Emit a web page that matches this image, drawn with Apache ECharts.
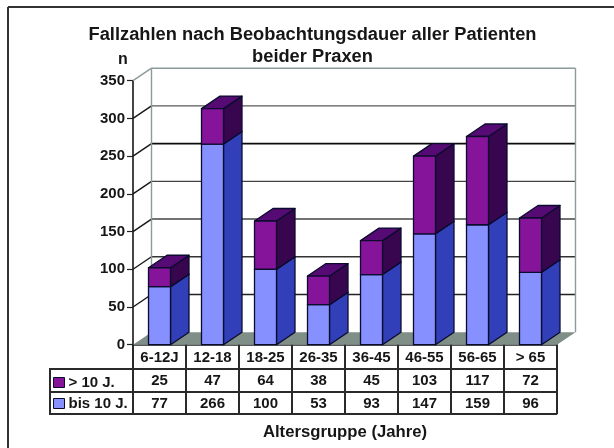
<!DOCTYPE html>
<html>
<head>
<meta charset="utf-8">
<title>Fallzahlen</title>
<script src="https://cdn.jsdelivr.net/npm/echarts@6/dist/echarts.min.js"></script>
<style>
html, body { margin: 0; padding: 0; background: #fff; }
#chart { width: 614px; height: 448px; }
</style>
</head>
<body>
<div id="chart"></div>
<script>
const categories = ['6-12J', '12-18', '18-25', '26-35', '36-45', '46-55', '56-65', '> 65']
const over10 = [25, 47, 64, 38, 45, 103, 117, 72]
const upTo10 = [77, 266, 100, 53, 93, 147, 159, 96]
const yTicks = [0, 50, 100, 150, 200, 250, 300, 350]

const FONT = '"Liberation Sans", Arial, sans-serif'
const INK = '#161616'
const EDGE = '#0b0b2e'
const TABLE_LINE = '#2a2a2a'
// 3D offset of the back wall
const DX = 18.5
const DY = 12.5
const gridColor = { 50: '#222', 100: '#333', 150: '#444', 200: '#444', 250: '#0c0c0c', 300: '#5a5a5a', 350: '#8c9a9a' }
const blue = { front: '#8790ff', side: '#3140b8', top: '#3140b8' }
const purple = { front: '#86149a', side: '#38064e', top: '#560a74' }

const poly = (points, fill) => ({
  type: 'polygon',
  shape: { points },
  style: { fill, stroke: EDGE, lineWidth: 1.3, lineJoin: 'round' }
})
const seg = (x1, y1, x2, y2, stroke, lineWidth) => ({
  type: 'line',
  shape: { x1, y1, x2, y2 },
  style: { stroke, lineWidth: lineWidth || 1.4 }
})
const tableLine = (x1, y1, x2, y2) => ({
  type: 'line',
  shape: { x1, y1, x2, y2 },
  style: { stroke: TABLE_LINE, lineWidth: 2 }
})

function renderBox (colors) {
  return function (params, api) {
    const x = api.coord([api.value(0), 0])[0]
    const w = api.size([1, 0])[0] * 0.415
    const yLow = api.coord([api.value(0), api.value(1)])[1]
    const yHigh = api.coord([api.value(0), api.value(2)])[1]
    const l = x - w / 2
    const r = x + w / 2
    return {
      type: 'group',
      children: [
        poly([[r, yLow], [r + DX, yLow - DY], [r + DX, yHigh - DY], [r, yHigh]], colors.side),
        poly([[l, yHigh], [r, yHigh], [r + DX, yHigh - DY], [l + DX, yHigh - DY]], colors.top),
        poly([[l, yLow], [r, yLow], [r, yHigh], [l, yHigh]], colors.front)
      ]
    }
  }
}

function renderWall (params, api) {
  const sys = params.coordSys
  const v = api.value(0)
  const y = api.coord([0, v])[1]
  const children = []
  if (v === 0) {
    children.push({
      type: 'polygon',
      shape: { points: [[sys.x, y], [sys.x + sys.width, y], [sys.x + sys.width + DX, y - DY], [sys.x + DX, y - DY]] },
      style: { fill: '#7f8f88' }
    })
  } else {
    // slanted part on the left wall is darker than the back wall line, except the top one
    children.push(seg(sys.x, y, sys.x + DX, y - DY, v === 350 ? gridColor[v] : '#161616'))
    children.push(seg(sys.x + DX, y - DY, sys.x + sys.width + DX, y - DY, gridColor[v], v === 250 ? 1.8 : 1.4))
  }
  if (v === 350) {
    children.push(seg(sys.x + DX, y - DY, sys.x + DX, sys.y + sys.height - DY, '#8c9a9a'))
    children.push(seg(sys.x + sys.width + DX, y - DY, sys.x + sys.width + DX, sys.y + sys.height - DY, '#8c9a9a'))
  }
  return { type: 'group', children }
}

// value columns and cell lines under the x axis
function renderTable (params, api) {
  const i = api.value(0)
  const sys = params.coordSys
  const base = sys.y + sys.height
  const x = api.coord([i, 0])[0]
  const right = x + api.size([1, 0])[0] / 2
  const cell = (text, y) => ({
    type: 'text',
    style: { text, x, y, align: 'center', verticalAlign: 'middle', fill: INK, font: 'bold 15px ' + FONT }
  })
  return {
    type: 'group',
    children: [
      seg(right, base, right, base + 69.5, TABLE_LINE, 2),
      cell(String(over10[i]), base + 36.5),
      cell(String(upTo10[i]), base + 59)
    ]
  }
}

const chart = echarts.init(document.getElementById('chart'), null, { renderer: 'canvas' })
chart.setOption({
  animation: false,
  backgroundColor: '#fff',
  textStyle: { fontFamily: FONT },
  title: {
    text: 'Fallzahlen nach Beobachtungsdauer aller Patienten\nbeider Praxen',
    left: 307.5,
    top: 19,
    textAlign: 'center',
    textStyle: { fontSize: 18.3, fontWeight: 'bold', color: INK, lineHeight: 22, fontFamily: FONT }
  },
  legend: {
    left: 53,
    top: 375,
    padding: 0,
    orient: 'vertical',
    selectedMode: false,
    itemWidth: 11,
    itemHeight: 10,
    itemGap: 6,
    textStyle: { fontSize: 15, fontWeight: 'bold', color: INK, fontFamily: FONT, padding: [0, 0, 0, -1] },
    data: [
      { name: '> 10 J.', icon: 'rect', itemStyle: { color: purple.front, borderColor: EDGE, borderWidth: 1 } },
      { name: 'bis 10 J.', icon: 'rect', itemStyle: { color: blue.front, borderColor: EDGE, borderWidth: 1 } }
    ]
  },
  grid: { left: 133, right: 57, top: 80.7, bottom: 103.3 },
  xAxis: {
    type: 'category',
    data: categories,
    name: 'Altersgruppe (Jahre)',
    nameLocation: 'middle',
    nameGap: 79,
    nameTextStyle: { fontSize: 16.7, fontWeight: 'bold', color: INK, fontFamily: FONT },
    axisTick: { show: false },
    axisLine: { show: true, lineStyle: { color: '#222', width: 1.6 } },
    axisLabel: { color: INK, fontSize: 15, fontWeight: 'bold', margin: 6, interval: 0, fontFamily: FONT }
  },
  yAxis: {
    type: 'value',
    min: 0,
    max: 350,
    interval: 50,
    name: 'n',
    nameGap: 13,
    nameTextStyle: { fontSize: 16, fontWeight: 'bold', color: INK, padding: [0, 20, 0, 0], fontFamily: FONT },
    splitLine: { show: false },
    axisLine: { show: true, lineStyle: { color: '#161616', width: 1.6 } },
    axisTick: { show: true, length: 6, lineStyle: { color: '#222', width: 1.2 } },
    axisLabel: { color: INK, fontSize: 15, fontWeight: 'bold', margin: 8, fontFamily: FONT }
  },
  graphic: [
    // frame, only top and left fall inside the picture
    { type: 'line', shape: { x1: 8, y1: 7, x2: 614, y2: 7 }, style: { stroke: '#333', lineWidth: 2 } },
    { type: 'line', shape: { x1: 8, y1: 7, x2: 8, y2: 448 }, style: { stroke: '#333', lineWidth: 2 } },
    // table outline
    tableLine(50, 369, 557, 369),
    tableLine(50, 392, 557, 392),
    tableLine(50, 414, 557, 414),
    tableLine(50, 368, 50, 415),
    tableLine(133, 345, 133, 414)
  ],
  series: [
    {
      type: 'custom',
      name: 'wall',
      silent: true,
      z: 1,
      renderItem: renderWall,
      data: yTicks.map(v => [v])
    },
    {
      type: 'custom',
      name: 'table',
      silent: true,
      z: 1,
      renderItem: renderTable,
      data: categories.map((c, i) => [i])
    },
    {
      type: 'custom',
      name: 'bis 10 J.',
      z: 2,
      itemStyle: { color: blue.front },
      renderItem: renderBox(blue),
      encode: { x: 0, y: 2 },
      data: upTo10.map((v, i) => [i, 0, v])
    },
    {
      type: 'custom',
      name: '> 10 J.',
      z: 3,
      itemStyle: { color: purple.front },
      renderItem: renderBox(purple),
      encode: { x: 0, y: 2 },
      data: over10.map((v, i) => [i, upTo10[i], upTo10[i] + v])
    }
  ]
})
</script>
</body>
</html>
